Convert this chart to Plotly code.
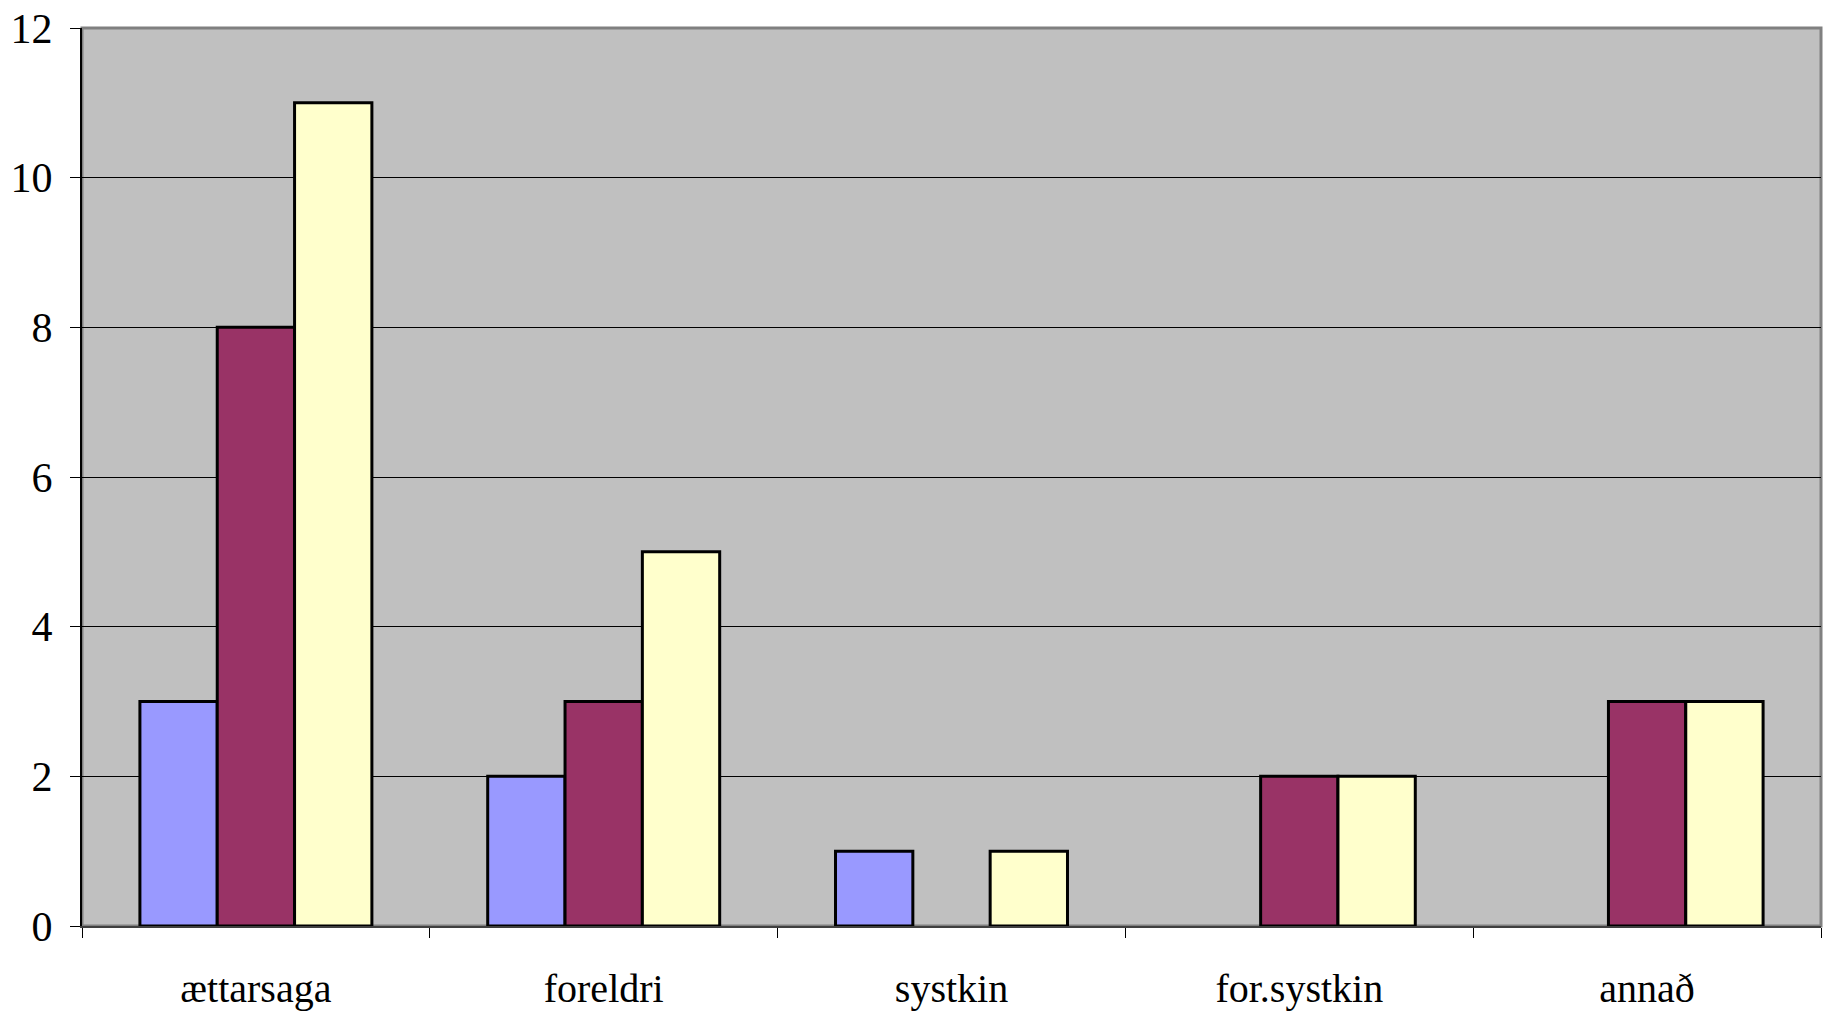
import plotly.graph_objects as go

categories = ["ættarsaga", "foreldri", "systkin", "for.systkin", "annað"]
series_a = [3, 2, 1, None, None]
series_b = [8, 3, None, 2, 3]
series_c = [11, 5, 1, 2, 3]

colors = ["#9999FF", "#993366", "#FFFFCC"]

fig = go.Figure()
for values, color in zip([series_a, series_b, series_c], colors):
    fig.add_trace(
        go.Bar(
            x=categories,
            y=values,
            marker=dict(color=color, line=dict(color="#000000", width=3)),
        )
    )

serif = "Liberation Serif"

fig.update_layout(
    width=1829,
    height=1014,
    margin=dict(l=82, r=8, t=28, b=88),
    paper_bgcolor="#FFFFFF",
    plot_bgcolor="#C0C0C0",
    barmode="group",
    bargap=0.333,
    bargroupgap=0,
    showlegend=False,
    font=dict(family=serif, color="#000000", size=40),
    shapes=[
        dict(
            type="rect", xref="paper", yref="paper", x0=0, x1=1, y0=0, y1=1,
            line=dict(color="#808080", width=3), layer="below",
        )
    ],
)

fig.update_xaxes(
    automargin=False,
    tickson="boundaries",
    ticks="outside",
    ticklen=10,
    tickcolor="#000000",
    showline=True,
    linecolor="#404040",
    linewidth=2,
    showgrid=False,
    ticklabelstandoff=26,
    tickfont=dict(family=serif, size=40),
)

fig.update_yaxes(
    automargin=False,
    ticklabeloverflow="allow",
    range=[0, 12],
    dtick=2,
    ticks="outside",
    ticklen=10,
    tickcolor="#000000",
    showline=True,
    linecolor="#000000",
    linewidth=2,
    showgrid=True,
    gridcolor="#000000",
    gridwidth=1,
    zeroline=False,
    ticklabelstandoff=9,
    tickfont=dict(family=serif, size=42),
)

# drop the page's default body margin so the figure fills the window
fig.write_html(
    "out.html",
    config={"displayModeBar": False},
    post_script="document.body.style.margin = '0'; document.body.style.overflow = 'hidden';",
)
